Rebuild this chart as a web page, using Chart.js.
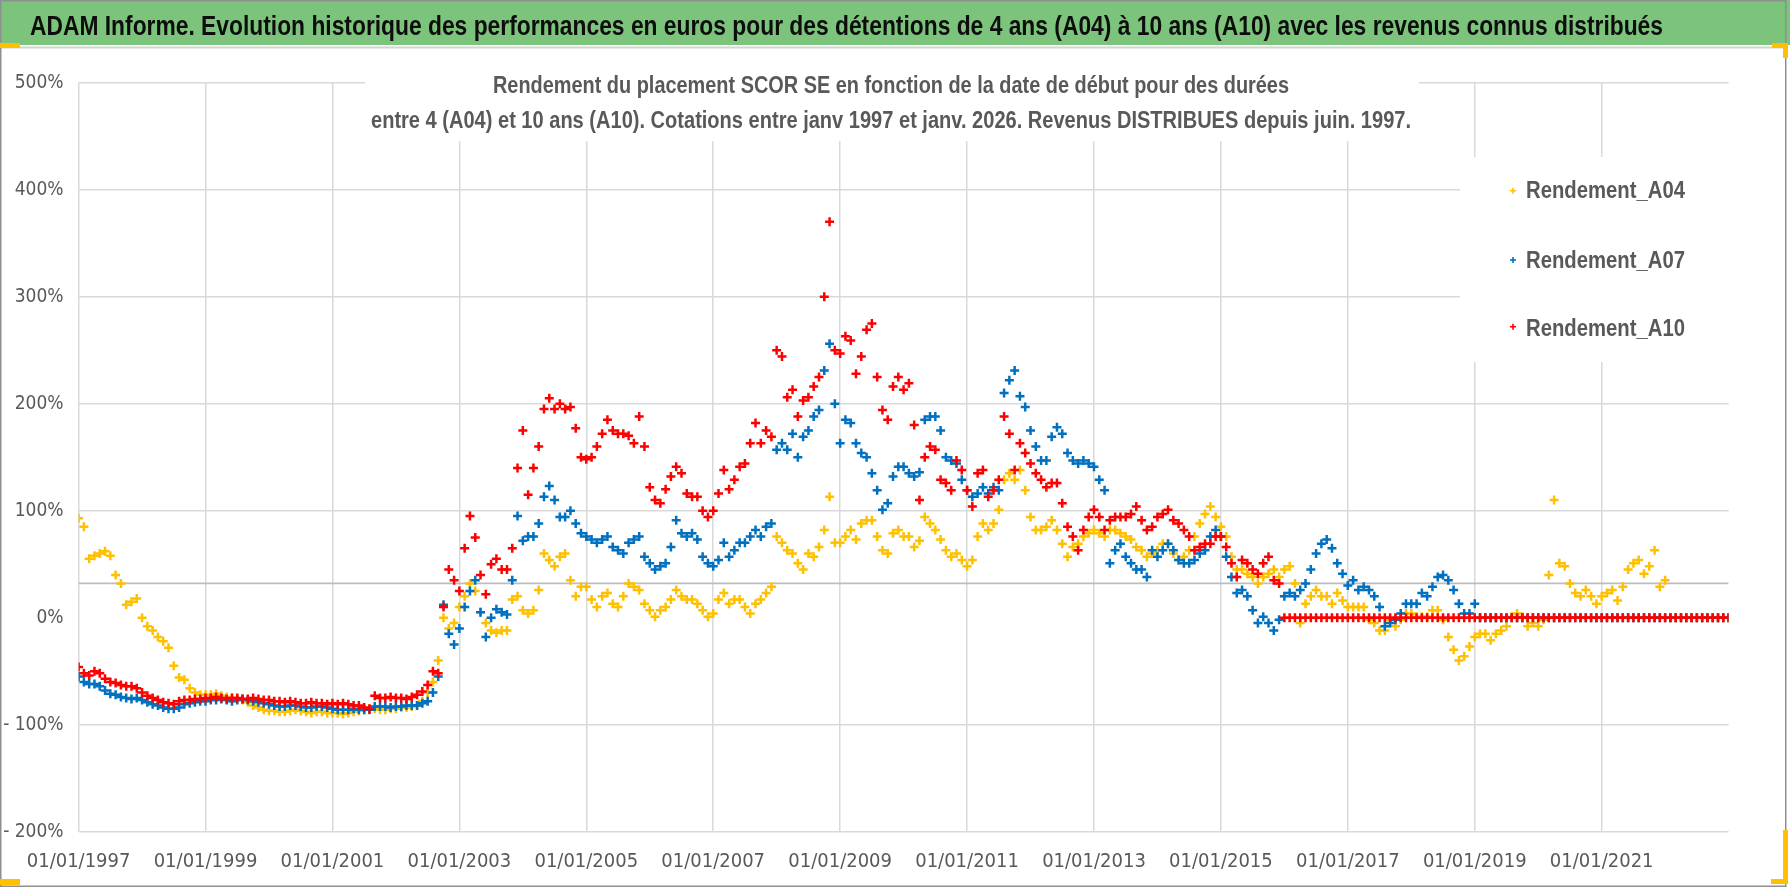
<!DOCTYPE html>
<html>
<head>
<meta charset="utf-8">
<script src="https://cdn.jsdelivr.net/npm/chart.js@4/dist/chart.umd.min.js"></script>
<style>
html,body{margin:0;padding:0;background:#fff;}
#page{position:relative;width:1790px;height:887px;overflow:hidden;background:#fff;}
#box{position:absolute;left:0;top:48px;width:1790px;height:839px;}
#over{position:absolute;left:0;top:0;pointer-events:none;}
</style>
</head>
<body>
<div id="page">
<div id="box"><canvas id="chart"></canvas></div>
<svg id="over" width="1790" height="887" font-family="'Liberation Sans Narrow','Liberation Sans',sans-serif">
<rect x="0" y="0" width="1790" height="45" fill="#7cc47c"/>
<line x1="0" y1="47.5" x2="1786" y2="47.5" stroke="#d4d4d4" stroke-width="2"/>
<text x="30" y="35" font-size="27" font-weight="bold" fill="#0d0d0d" textLength="1633" lengthAdjust="spacingAndGlyphs">ADAM Informe. Evolution historique des performances en euros pour des détentions de 4 ans (A04) à 10 ans (A10) avec les revenus connus distribués</text>

<rect x="365" y="60" width="1054" height="81" fill="#fff"/>
<text x="891" y="93.3" text-anchor="middle" font-size="23.3" font-weight="bold" fill="#595959" textLength="796" lengthAdjust="spacingAndGlyphs">Rendement du placement SCOR SE en fonction de la date de début pour des durées</text>
<text x="891" y="128.3" text-anchor="middle" font-size="23.3" font-weight="bold" fill="#595959" textLength="1040" lengthAdjust="spacingAndGlyphs">entre 4 (A04) et 10 ans (A10).  Cotations entre janv 1997 et janv. 2026. Revenus DISTRIBUES depuis juin. 1997.</text>

<rect x="1460" y="157" width="269" height="205" fill="#fff"/>
<g stroke-width="1.6">
<line x1="1510" y1="190.7" x2="1516" y2="190.7" stroke="#ffc000"/>
<line x1="1513" y1="187.7" x2="1513" y2="193.7" stroke="#ffc000"/>
<line x1="1510" y1="260" x2="1516" y2="260" stroke="#0070c0"/>
<line x1="1513" y1="257" x2="1513" y2="263" stroke="#0070c0"/>
<line x1="1510" y1="326.7" x2="1516" y2="326.7" stroke="#ff0000"/>
<line x1="1513" y1="323.7" x2="1513" y2="329.7" stroke="#ff0000"/>
</g>
<g font-size="23.3" font-weight="bold" fill="#595959">
<text x="1526" y="198.3" textLength="159" lengthAdjust="spacingAndGlyphs">Rendement_A04</text>
<text x="1526" y="268.3" textLength="159" lengthAdjust="spacingAndGlyphs">Rendement_A07</text>
<text x="1526" y="336" textLength="159" lengthAdjust="spacingAndGlyphs">Rendement_A10</text>
</g>

<rect x="0.75" y="0.75" width="1785" height="885.5" fill="none" stroke="#8f8f8f" stroke-width="1.5"/>
<g fill="#ffc000">
<rect x="0" y="43" width="20" height="5"/>
<rect x="0" y="879" width="20" height="6"/>
<rect x="1772" y="43" width="16" height="5"/>
<rect x="1783" y="43" width="5" height="15"/>
<rect x="1783" y="830" width="5" height="54"/>
<rect x="1771" y="879" width="17" height="5"/>
</g>
</svg>
</div>

<script>
// Rendement en %, un point par mois, premier point = janvier 1997
let rendementA04 = [
93, 85, 55, 58, 60, 62, 58, 40, 32, 12, 15, 18,
0, -8, -12, -18, -22, -28, -45, -56, -58, -66, -70, -72,
-72, -72, -71, -73, -74, -75, -76, -77, -79, -82, -84, -86,
-87, -87, -88, -88, -87, -86, -87, -88, -89, -88, -88, -89,
-89, -89, -90, -89, -88, -87, -86, -85, -85, -86, -86, -85,
-85, -84, -84, -83, -82, -78, -70, -60, -40, 0, -10, -5,
10, 20, 32, 25, 5, -5, -12, -14, -12, -12, 17, 20,
7, 4, 7, 26, 60, 54, 48, 57, 60, 35, 20, 29,
29, 17, 10, 20, 23, 13, 10, 20, 32, 29, 26, 13,
7, 1, 7, 10, 17, 26, 20, 17, 17, 13, 7, 1,
4, 17, 23, 13, 17, 17, 10, 4, 13, 17, 23, 29,
76, 70, 63, 60, 51, 45, 60, 57, 66, 82, 113, 70,
70, 76, 82, 73, 88, 91, 91, 76, 63, 60, 79, 82,
76, 76, 66, 72, 94, 88, 82, 73, 63, 57, 60, 54,
48, 54, 76, 88, 82, 88, 101, 129, 135, 129, 138, 119,
94, 82, 82, 85, 91, 82, 69, 57, 66, 69, 76, 79,
82, 79, 76, 82, 82, 79, 76, 73, 66, 63, 57, 60,
63, 69, 69, 60, 54, 57, 63, 76, 88, 97, 104, 94,
85, 76, 57, 45, 45, 41, 38, 32, 38, 41, 45, 38,
45, 48, 32, -5, 13, 20, 26, 20, 20, 13, 23, 16,
10, 10, 10, 10, -2, -5, -12, -12, -2, -8, -2, 4,
4, 1, 1, 1, 7, 7, -2, -18, -30, -40, -36, -27,
-18, -15, -15, -21, -15, -12, -8, 1, 4, 1, -8, -5,
-8, -2, 40, 110, 51, 48, 32, 23, 20, 26, 20, 13,
20, 23, 26, 16, 29, 45, 51, 54, 41, 48, 63, 29,
35, 0, 0, 0, 0, 0, 0, 0, 0, 0, 0, 0,
0
]

let rendementA07 = [
-55, -60, -62, -62, -64, -68, -71, -72, -74, -75, -76, -75,
-77, -79, -81, -82, -84, -85, -85, -84, -81, -80, -79, -78,
-78, -77, -77, -76, -77, -78, -77, -76, -77, -78, -79, -80,
-81, -82, -83, -83, -82, -82, -83, -84, -84, -83, -83, -84,
-85, -86, -86, -86, -85, -86, -86, -86, -83, -83, -83, -84,
-83, -83, -82, -82, -82, -80, -78, -70, -55, 12, -15, -25,
-10, 10, 25, 35, 5, -18, 0, 8, 5, 3, 35, 95,
72, 76, 76, 88, 113, 123, 110, 94, 94, 100, 88, 79,
76, 73, 70, 73, 76, 66, 63, 60, 70, 73, 76, 57,
51, 45, 48, 51, 66, 91, 79, 76, 79, 73, 57, 51,
48, 54, 70, 57, 63, 70, 70, 76, 82, 76, 85, 88,
157, 163, 157, 172, 150, 169, 175, 188, 194, 231, 256, 200,
163, 185, 182, 163, 154, 150, 135, 119, 101, 107, 132, 141,
141, 135, 132, 136, 185, 188, 188, 175, 150, 147, 144, 129,
119, 113, 116, 122, 116, 122, 119, 210, 222, 231, 207, 197,
175, 160, 147, 147, 169, 178, 172, 154, 147, 144, 147, 144,
141, 129, 119, 51, 63, 69, 57, 51, 45, 45, 38, 63,
57, 63, 69, 63, 54, 51, 51, 54, 60, 63, 76, 82,
76, 57, 38, 23, 26, 20, 7, -5, 1, -5, -12, -2,
20, 23, 20, 26, 32, 45, 60, 69, 73, 65, 51, 41,
30, 35, 26, 29, 26, 20, 10, -8, -5, -2, 4, 13,
13, 13, 23, 20, 29, 38, 40, 35, 26, 13, 4, 4,
13, 0, 0, 0, 0, 0, 0, 0, 0, 0, 0, 0,
0, 0, 0, 0, 0, 0, 0, 0, 0, 0, 0, 0,
0, 0, 0, 0, 0, 0, 0, 0, 0, 0, 0, 0,
0, 0, 0, 0, 0, 0, 0, 0, 0, 0, 0, 0,
0
]

let rendementA10 = [
-46, -52, -54, -50, -52, -57, -60, -61, -63, -64, -64, -66,
-70, -73, -75, -77, -79, -80, -81, -78, -77, -77, -76, -76,
-75, -75, -74, -75, -76, -75, -75, -76, -76, -75, -76, -77,
-77, -78, -78, -79, -78, -79, -80, -80, -79, -80, -80, -81,
-80, -81, -80, -81, -82, -82, -84, -85, -73, -75, -75, -74,
-75, -75, -76, -74, -72, -69, -63, -50, -52, 10, 45, 35,
25, 65, 95, 75, 40, 22, 50, 55, 45, 45, 65, 140,
175, 115, 140, 160, 195, 205, 195, 200, 195, 197, 177, 150,
148, 150, 160, 172, 185, 175, 172, 172, 170, 163, 188, 160,
122, 110, 107, 120, 132, 141, 135, 116, 113, 113, 100, 94,
100, 116, 138, 120, 129, 141, 144, 163, 182, 163, 175, 169,
250, 244, 206, 213, 188, 203, 206, 216, 225, 300, 370, 250,
247, 263, 259, 228, 244, 269, 275, 225, 194, 185, 216, 225,
213, 219, 180, 110, 150, 160, 157, 129, 126, 119, 147, 138,
119, 104, 135, 138, 113, 119, 129, 188, 172, 138, 163, 154,
144, 135, 129, 122, 126, 126, 107, 85, 76, 63, 82, 94,
101, 94, 82, 91, 94, 94, 94, 97, 104, 91, 82, 85,
94, 97, 101, 91, 88, 82, 76, 63, 66, 69, 69, 76,
76, 66, 51, 38, 54, 51, 45, 41, 51, 57, 35, 32,
0, 0, 0, 0, 0, 0, 0, 0, 0, 0, 0, 0,
0, 0, 0, 0, 0, 0, 0, 0, 0, 0, 0, 0,
0, 0, 0, 0, 0, 0, 0, 0, 0, 0, 0, 0,
0, 0, 0, 0, 0, 0, 0, 0, 0, 0, 0, 0,
0, 0, 0, 0, 0, 0, 0, 0, 0, 0, 0, 0,
0, 0, 0, 0, 0, 0, 0, 0, 0, 0, 0, 0,
0, 0, 0, 0, 0, 0, 0, 0, 0, 0, 0, 0,
0
]

let ligneRepere = 32

let anneesX = [1997, 1999, 2001, 2003, 2005, 2007, 2009, 2011, 2013, 2015, 2017, 2019, 2021]
let ticksY = [-200, -100, 0, 100, 200, 300, 400, 500]

let debut = 1997
let fin = 2023

let police = "'Liberation Sans Narrow','DejaVu Sans Condensed',sans-serif"


function points(values){
  return values.map((v, i) => ({x: debut + i / 12, y: v}))
}

function serie(label, values, color, order){
  return {
    type: "scatter",
    label: label,
    data: points(values),
    pointStyle: "cross",
    pointRadius: 4.5,
    pointBorderWidth: 2.5,
    borderColor: color,
    backgroundColor: color,
    order: order
  }
}


new Chart(document.getElementById("chart"), {
  data: {
    datasets: [
      serie("Rendement_A04", rendementA04, "#ffc000", 3),
      serie("Rendement_A07", rendementA07, "#0070c0", 2),
      serie("Rendement_A10", rendementA10, "#ff0000", 1),
      {
        type: "line",
        label: "repere",
        data: [{x: debut, y: ligneRepere}, {x: fin, y: ligneRepere}],
        borderColor: "#bdbdbd",
        borderWidth: 1.8,
        pointRadius: 0,
        order: 5
      }
    ]
  },
  options: {
    responsive: true,
    maintainAspectRatio: false,
    animation: false,
    layout: {padding: {top: 34.7, right: 61.4, left: 0, bottom: 0}},
    plugins: {legend: {display: false}, tooltip: {enabled: false}, title: {display: false}},
    scales: {
      x: {
        type: "linear",
        min: debut,
        max: fin,
        afterBuildTicks: axis => { axis.ticks = anneesX.map(v => ({value: v})) },
        afterFit: axis => { axis.height = 55.3 },
        ticks: {
          autoSkip: false,
          maxRotation: 0,
          padding: 18,
          color: "#595959",
          font: {family: police, size: 20},
          callback: v => "01/01/" + v
        },
        grid: {color: "#d9d9d9", lineWidth: 1.5, drawTicks: false},
        border: {display: false}
      },
      y: {
        type: "linear",
        min: -200,
        max: 500,
        afterBuildTicks: axis => { axis.ticks = ticksY.map(v => ({value: v})) },
        afterFit: axis => { axis.width = 78.6 },
        ticks: {
          padding: 15,
          color: "#595959",
          font: {family: police, size: 19},
          callback: v => v < 0 ? "- " + Math.abs(v) + "%" : v + "%"
        },
        grid: {
          color: ctx => ctx.tick && ctx.tick.value === 0 ? "rgba(0,0,0,0)" : "#d9d9d9",
          lineWidth: 1.5,
          drawTicks: false
        },
        border: {display: false}
      }
    }
  }
})
</script>
</body>
</html>
